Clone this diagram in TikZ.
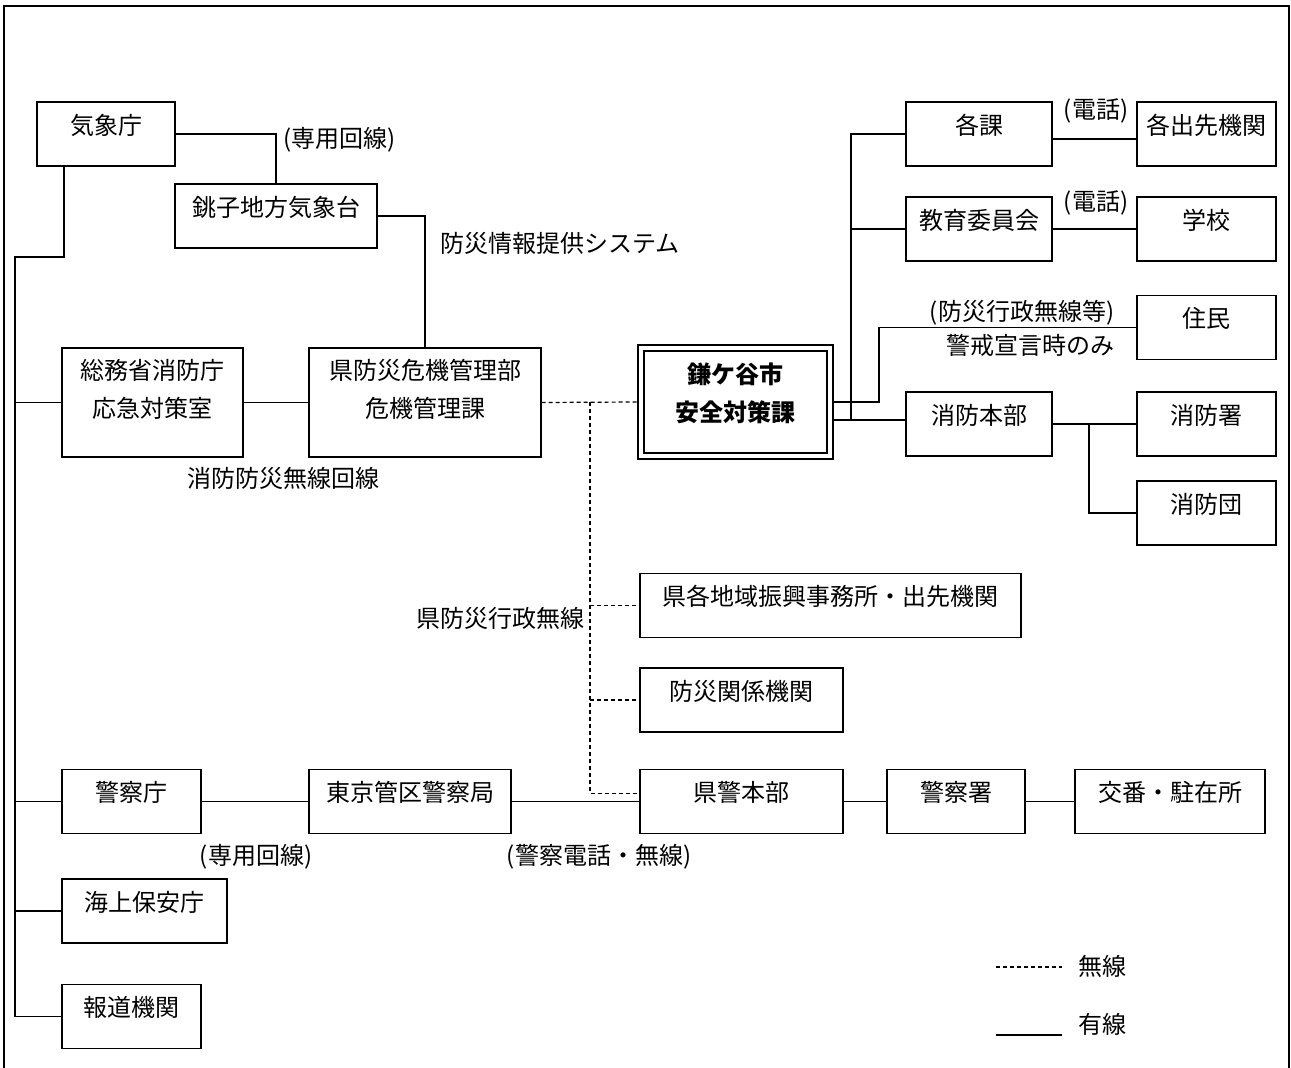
\documentclass[tikz,border=0pt]{standalone}
\usepackage{fontspec}
\setmainfont{Noto Sans CJK JP}
\usepackage{tikz}

\tikzset{
  box/.style={draw, rectangle, inner sep=0pt, minimum height=32pt, text depth=10pt, align=center},
  twobox/.style={box, minimum height=54.5pt, text depth=14.5pt},
  anzenbox/.style={draw, double, double distance=1.8pt, line width=1.1pt, inner sep=0pt, outer sep=2pt,
    minimum width=94.5pt, minimum height=54pt, text depth=9.5pt, align=center,
    font=\fontsize{12pt}{19pt}\selectfont\bfseries},
  radio/.style={dash pattern=on 2pt off 1.5pt},
  lbl/.style={inner sep=0pt},
}

\begin{document}
\begin{tikzpicture}[x=0.5pt, y=-0.5pt, line width=0.6pt, font=\fontsize{12pt}{19pt}\selectfont]
    \useasboundingbox (0,0) rectangle (1291,1068);
    \draw [line width=1pt] (4,1068) -- (4,6) -- (1289,6) -- (1289,1068);

    % boxes
    \node [box, minimum width=69pt] (kisho) at (106,134) {気象庁};
    \node [box, minimum width=101pt] (choshi) at (276,216) {銚子地方気象台};
    \node [twobox, minimum width=90.5pt] (somu) at (152.5,402.5) {総務省消防庁\\応急対策室};
    \node [twobox, minimum width=116pt] (kenbo) at (425,402.5) {県防災危機管理部\\危機管理課};
    \node [anzenbox] (anzen) at (735.5,402) {鎌ケ谷市\\安全対策課};
    \node [box, minimum width=73pt] (kaka) at (979,134) {各課};
    \node [box, minimum width=69.5pt] (sakiki) at (1206.5,134) {各出先機関};
    \node [box, minimum width=73pt] (kyoiku) at (979,229) {教育委員会};
    \node [box, minimum width=69.5pt] (gakko) at (1206.5,229) {学校};
    \node [box, minimum width=69.5pt] (jumin) at (1206.5,327.5) {住民};
    \node [box, minimum width=73pt] (shobo) at (979,424) {消防本部};
    \node [box, minimum width=69.5pt] (shosho) at (1206.5,424) {消防署};
    \node [box, minimum width=69.5pt] (shodan) at (1206.5,513) {消防団};
    \node [box, minimum width=190.5pt] (chiiki) at (830.5,605.5) {県各地域振興事務所・出先機関};
    \node [box, minimum width=101.5pt] (bosai) at (741.5,700) {防災関係機関};
    \node [box, minimum width=69.5pt] (keisatsu) at (131.5,801.5) {警察庁};
    \node [box, minimum width=101pt] (tokyo) at (410,801.5) {東京管区警察局};
    \node [box, minimum width=101.5pt] (kenkei) at (741.5,801.5) {県警本部};
    \node [box, minimum width=69pt] (keisho) at (956,801.5) {警察署};
    \node [box, minimum width=95pt] (koban) at (1170,801.5) {交番・駐在所};
    \node [box, minimum width=82.5pt] (kaijo) at (144.5,911) {海上保安庁};
    \node [box, minimum width=69.5pt] (hodo) at (131.5,1016.5) {報道機関};

    % labels
    \node [lbl, anchor=west] (senyo1) at (283,140) {(専用回線)};
    \node [lbl] (bojoho) at (560,243) {防災情報提供システム};
    \node [lbl] (shobomusen) at (283,478) {消防防災無線回線};
    \node [lbl, anchor=east] (gyosei) at (585,618) {県防災行政無線};
    \node [lbl] (denwa1) at (1096,111) {(電話)};
    \node [lbl] (denwa2) at (1096,203) {(電話)};
    \node [lbl] (bogyosei) at (1022,313) {(防災行政無線等)};
    \node [lbl] (keikai) at (1030,345) {警戒宣言時のみ};
    \node [lbl] (senyo2) at (256,857) {(専用回線)};
    \node [lbl] (keidenwa) at (599,857) {(警察電話・無線)};
    \node [lbl, anchor=west] (lmusen) at (1078,966) {無線};
    \node [lbl, anchor=west] (lyusen) at (1078,1024) {有線};

    % wired lines, left side
    \coordinate (ltrunk) at (15,257);
    \draw [black] (kisho.east) -| (choshi.north);
    \draw [black] (choshi.east) -| (kenbo.north);
    \draw [black] ([xshift=-21pt]kisho.south) |- (ltrunk) -- (ltrunk |- hodo.west) -- (hodo.west);
    \draw [black] (somu.west -| ltrunk) -- (somu.west);
    \draw [black] (keisatsu.west -| ltrunk) -- (keisatsu.west);
    \draw [black] (kaijo.west -| ltrunk) -- (kaijo.west);
    \draw [black] (somu.east) -- (kenbo.west);
    \draw [black] (keisatsu.east) -- (tokyo.west);
    \draw [black] (tokyo.east) -- (kenkei.west);
    \draw [black] (kenkei.east) -- (keisho.west);
    \draw [black] (keisho.east) -- (koban.west);

    % wired lines, right side
    \coordinate (rtrunk) at (851,420);
    \coordinate (jbend) at (879,402);
    \coordinate (sbranch) at (1089,424);
    \draw [black] (anzen.east) -- (jbend) |- (jumin.west);
    \draw [black] ([yshift=-9pt]anzen.east) -- ([yshift=-9pt]anzen.east -| shobo.west);
    \draw [black] (kaka.west) -| (rtrunk);
    \draw [black] (kyoiku.west) -- (kyoiku.west -| rtrunk);
    \draw [black] ([yshift=-2.5pt]kaka.east) -- ([yshift=-2.5pt]kaka.east -| sakiki.west);
    \draw [black] (kyoiku.east) -- (gakko.west);
    \draw [black] (shobo.east) -- (shosho.west);
    \draw [black] (sbranch) |- (shodan.west);

    % radio lines
    \coordinate (rtop) at (590,402);
    \draw [radio] (kenbo.east) -- (anzen.west);
    \draw [radio] (rtop) |- ([yshift=4pt]kenkei.west);
    \draw [radio] (chiiki.west -| rtop) -- (chiiki.west);
    \draw [radio] (bosai.west -| rtop) -- (bosai.west);

    % legend
    \coordinate (mu1) at (996,967);
    \coordinate (mu2) at (1062,967);
    \coordinate (yu1) at (996,1035);
    \coordinate (yu2) at (1062,1035);
    \draw [radio] (mu1) -- (mu2);
    \draw [black] (yu1) -- (yu2);
\end{tikzpicture}
\end{document}
